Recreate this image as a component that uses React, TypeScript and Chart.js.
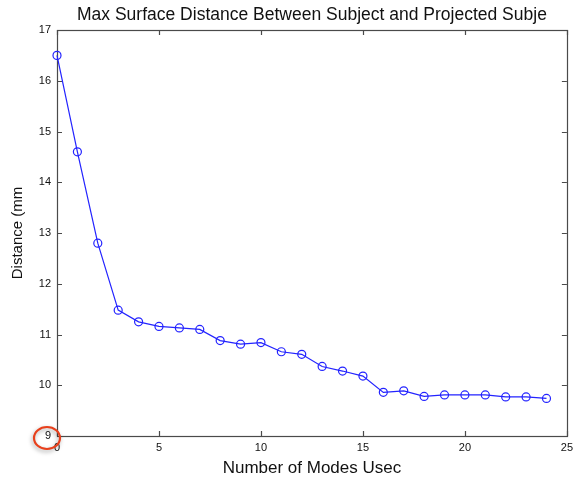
import React, { useEffect, useRef } from "react";
import { Chart, registerables } from "chart.js";

Chart.register(...registerables);

const TITLE = "Max Surface Distance Between Subject and Projected Subje";
const X_LABEL = "Number of Modes Usec";
const Y_LABEL = "Distance (mm";

const modes = [0, 1, 2, 3, 4, 5, 6, 7, 8, 9, 10, 11, 12, 13, 14, 15, 16, 17, 18, 19, 20, 21, 22, 23, 24];
const distances = [
  16.5, 14.6, 12.8, 11.48, 11.25, 11.16, 11.13, 11.1, 10.88, 10.81, 10.84, 10.66, 10.61,
  10.37, 10.28, 10.18, 9.86, 9.89, 9.78, 9.81, 9.81, 9.81, 9.77, 9.77, 9.74,
];
const xTicks = [0, 5, 10, 15, 20, 25];
const yTicks = [9, 10, 11, 12, 13, 14, 15, 16, 17];
const highlightedTick = 9;

const FONT = "'Liberation Sans', Arial, Helvetica, sans-serif";
const AXIS_COLOR = "#4a4a4a";
const LINE_COLOR = "rgb(35,35,255)";

const framePlugin = {
  id: "frame",
  beforeDatasetsDraw(chart: any) {
    const { ctx, chartArea } = chart;
    const { left, right, top, bottom } = chartArea;
    const xs = chart.scales.x;
    const ys = chart.scales.y;
    const tl = 5;
    ctx.save();
    ctx.strokeStyle = AXIS_COLOR;
    ctx.lineWidth = 1.2;
    ctx.strokeRect(Math.round(left) + 0.5, Math.round(top) + 0.5, Math.round(right - left), Math.round(bottom - top));
    ctx.beginPath();
    xTicks.forEach((v) => {
      const px = Math.round(xs.getPixelForValue(v)) + 0.5;
      ctx.moveTo(px, bottom);
      ctx.lineTo(px, bottom - tl);
      ctx.moveTo(px, top);
      ctx.lineTo(px, top + tl);
    });
    yTicks.forEach((v) => {
      const py = Math.round(ys.getPixelForValue(v)) + 0.5;
      ctx.moveTo(left, py);
      ctx.lineTo(left + tl, py);
      ctx.moveTo(right, py);
      ctx.lineTo(right - tl, py);
    });
    ctx.stroke();
    ctx.restore();
  },
  afterDraw(chart: any) {
    const { ctx } = chart;
    const ys = chart.scales.y;
    const cx = ys.right - 10;
    const cy = ys.getPixelForValue(highlightedTick) + 2;
    ctx.save();
    ctx.shadowColor = "rgba(0,0,0,0.35)";
    ctx.shadowBlur = 4;
    ctx.shadowOffsetX = -1;
    ctx.shadowOffsetY = 2;
    ctx.strokeStyle = "#e8401c";
    ctx.lineWidth = 2.2;
    ctx.beginPath();
    ctx.ellipse(cx, cy, 13, 11, 0, 0, Math.PI * 2);
    ctx.stroke();
    ctx.restore();
  },
};

export default function App() {
  const ref = useRef<HTMLCanvasElement>(null);

  useEffect(() => {
    if (!ref.current) return;
    const chart = new Chart(ref.current, {
      type: "line",
      data: {
        datasets: [
          {
            data: modes.map((m, i) => ({ x: m, y: distances[i] })),
            borderColor: LINE_COLOR,
            borderWidth: 1.2,
            backgroundColor: "rgba(0,0,0,0)",
            pointStyle: "circle",
            pointRadius: 4,
            pointBorderWidth: 1.2,
            pointBorderColor: LINE_COLOR,
            pointBackgroundColor: "rgba(0,0,0,0)",
            tension: 0,
            clip: false as any,
          },
        ],
      },
      options: {
        animation: false,
        responsive: false,
        layout: { padding: { left: 0, right: 10, top: 0, bottom: 0 } },
        plugins: {
          legend: { display: false },
          tooltip: { enabled: false },
          title: {
            display: true,
            text: TITLE,
            fullSize: false,
            color: "#111",
            font: { family: FONT, size: 17.5, weight: "normal" },
            padding: { top: 4.5, bottom: 4.5 },
          },
        },
        scales: {
          x: {
            type: "linear",
            min: 0,
            max: 25,
            afterBuildTicks: (s: any) => {
              s.ticks = xTicks.map((v) => ({ value: v }));
            },
            afterFit: (s: any) => {
              s.height = 47;
            },
            grid: { display: false, drawTicks: false },
            border: { display: false },
            ticks: {
              color: "#111",
              font: { family: FONT, size: 11 },
              padding: 5,
              maxRotation: 0,
            },
            title: {
              display: true,
              text: X_LABEL,
              color: "#111",
              font: { family: FONT, size: 17 },
              padding: { top: 0, bottom: 4 },
            },
          },
          y: {
            type: "linear",
            min: 9,
            max: 17,
            afterBuildTicks: (s: any) => {
              s.ticks = yTicks.map((v) => ({ value: v }));
            },
            afterFit: (s: any) => {
              s.width = 57;
            },
            grid: { display: false, drawTicks: false },
            border: { display: false },
            ticks: {
              color: "#111",
              font: { family: FONT, size: 11 },
              padding: 6,
            },
            title: {
              display: true,
              text: Y_LABEL,
              color: "#111",
              font: { family: FONT, size: 15 },
              padding: { top: 9, bottom: 0 },
            },
          },
        },
      },
      plugins: [framePlugin],
    });
    return () => chart.destroy();
  }, []);

  return (
    <div style={{ position: "fixed", left: 0, top: 0, width: 578, height: 483, background: "#fff" }}>
      <canvas ref={ref} width={578} height={483} style={{ display: "block", width: 578, height: 483 }} />
    </div>
  );
}
